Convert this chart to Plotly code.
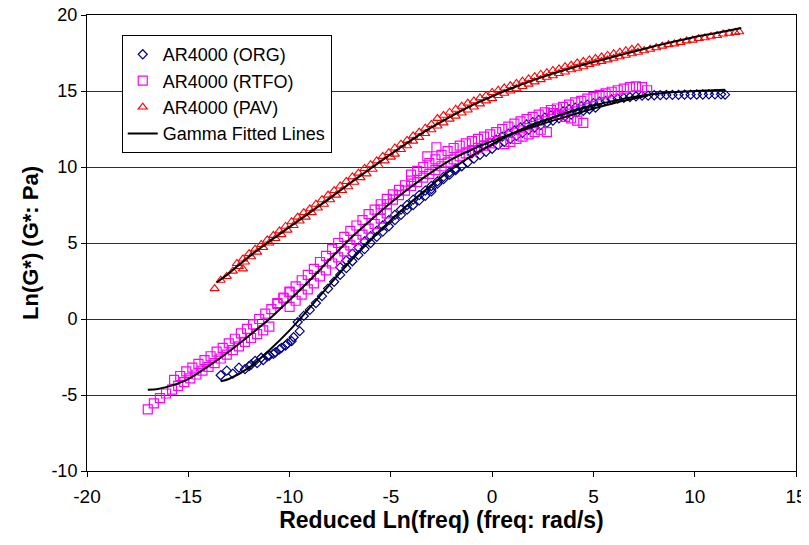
import plotly.graph_objects as go

# ---------------- data ----------------
# AR4000 (ORG) – navy diamonds
org_x = [-13.4,-13.1,-12.8,-12.5,-12.2,-11.9,-11.6,-11.3,-11.0,-10.7,-10.4,-10.1,-9.8,-9.5,
         -12.0,-11.7,-11.4,-11.1,-10.8,-10.5,-10.2,-9.9,
         -9.6,-9.3,-9.0,-8.7,-8.4,-8.1,-7.8,-7.5,-7.2,-6.9,-6.6,-6.3,-6.0,-5.7,-5.4,-5.1,-4.8,-4.5,-4.2,-3.9,-3.6,-3.3,-3.0,
         -7.5,-7.2,-6.9,-6.6,-6.3,-6.0,-5.7,-5.4,-5.1,-4.8,-4.5,-4.2,-3.9,-3.6,-3.3,-3.0,-2.7,-2.4,-2.1,-1.8,
         -3.0,-2.7,-2.4,-2.1,-1.8,-1.5,-1.2,-0.9,-0.6,-0.3,0.0,0.3,0.6,0.9,1.2,1.5,1.8,2.1,2.4,2.7,3.0,3.3,3.6,3.9,4.2,4.5,4.8,5.1,
         -1.0,-0.7,-0.4,-0.1,0.2,0.5,0.8,1.1,1.4,1.7,2.0,2.3,2.6,2.9,3.2,3.5,3.8,4.1,4.4,4.7,5.0,5.3,5.6,5.9,6.2,6.5,6.8,7.1,7.4,7.7,
         8.0,8.3,8.6,8.9,9.2,9.5,9.8,10.1,10.4,10.7,11.0,11.3,11.5]
org_y = [-3.7,-3.4,-3.6,-3.2,-3.3,-3.0,-2.9,-2.7,-2.4,-2.2,-1.9,-1.6,-1.2,-0.8,
         -3.1,-2.75,-2.55,-2.45,-2.3,-2.0,-1.75,-1.45,
         -0.2,0.2,0.6,1.05,1.5,2.0,2.45,2.9,3.35,3.8,4.2,4.6,5.0,5.4,5.75,6.1,6.5,6.85,7.2,7.5,7.8,8.1,8.4,
         3.4,3.85,4.3,4.7,5.1,5.45,5.8,6.15,6.5,6.85,7.2,7.5,7.85,8.15,8.45,8.75,9.05,9.35,9.65,9.9,
         8.55,8.9,9.2,9.5,9.8,10.05,10.3,10.55,10.8,11.0,11.2,11.45,11.65,11.85,12.05,12.25,12.45,12.6,12.75,12.9,13.05,13.2,13.35,13.45,13.6,13.7,13.8,13.9,
         10.9,11.15,11.4,11.6,11.8,12.0,12.2,12.4,12.6,12.8,12.95,13.1,13.25,13.4,13.55,13.65,13.8,13.9,14.0,14.1,14.2,14.3,14.35,14.45,14.5,14.55,14.6,14.65,14.7,14.7,
         14.72,14.73,14.74,14.75,14.75,14.76,14.76,14.77,14.77,14.78,14.78,14.78,14.76]

# AR4000 (RTFO) – magenta squares
rtfo_x = [-17.0,-16.7,-16.4,-16.1,-15.8,-15.5,-15.2,-14.9,-14.6,-14.3,-14.0,-13.7,-13.4,-13.1,-12.8,-12.5,-12.2,-11.9,-11.6,-11.3,-11.0,
          -15.7,-15.4,-15.1,-14.8,-14.5,-14.2,-13.9,-13.6,-13.3,-13.0,-12.7,-12.4,-12.1,-11.8,-11.5,-11.2,-10.9,-10.6,-10.3,-10.0,
          -10.6,-10.3,-10.0,-9.7,-9.4,-9.1,-8.8,-8.5,-8.2,-7.9,-7.6,-7.3,-7.0,-6.7,-6.4,-6.1,-5.8,-5.5,-5.2,-4.9,-4.6,-4.3,-4.0,
          -10.0,-9.7,-9.4,-9.1,-8.8,-8.5,-8.2,-7.9,-7.6,-7.3,-7.0,-6.7,-6.4,-6.1,-5.8,-5.5,-5.2,
          -5.5,-5.2,-4.9,-4.6,-4.3,-4.0,-3.7,-3.4,-3.1,-2.8,-2.5,-2.2,-1.9,-1.6,-1.3,-1.0,-0.7,-0.4,-0.1,
          -4.0,-3.7,-3.4,-3.1,-2.8,-2.5,-2.2,-1.9,-1.6,-1.3,-1.0,-0.7,-0.4,-0.1,0.2,0.5,0.8,1.1,1.4,1.7,
          2.0,2.3,2.6,2.9,3.2,3.5,3.8,4.1,4.4,4.7,5.0,5.3,5.6,5.9,6.2,6.5,6.8,7.1,7.4,7.65,
          0.6,0.9,1.2,1.5,1.8,2.1,2.4,2.7,
          3.0,3.3,3.6,3.9,4.2,4.5,
          -3.2,-2.75]
rtfo_y = [-5.95,-5.55,-5.2,-4.9,-4.65,-4.4,-4.15,-3.9,-3.65,-3.4,-3.15,-2.9,-2.6,-2.35,-2.05,-1.8,-1.5,-1.25,-1.0,-0.75,-0.5,
          -4.0,-3.75,-3.45,-3.2,-2.95,-2.7,-2.45,-2.15,-1.9,-1.6,-1.3,-0.95,-0.65,-0.35,0.0,0.35,0.65,1.05,1.4,1.8,
          1.0,1.35,1.75,2.15,2.55,2.9,3.3,3.75,4.15,4.6,5.0,5.4,5.8,6.15,6.5,6.9,7.2,7.55,7.9,8.2,8.5,8.8,9.1,
          0.8,1.2,1.6,1.95,2.35,2.8,3.2,3.65,4.05,4.45,4.85,5.2,5.55,5.95,6.25,6.6,6.95,
          7.2,7.55,7.85,8.15,8.45,8.75,9.0,9.3,9.55,9.8,10.05,10.3,10.5,10.7,10.9,11.05,11.25,11.4,11.55,
          9.5,9.75,10.0,10.25,10.5,10.8,11.05,11.25,11.4,11.55,11.7,11.85,12.0,12.15,12.3,12.5,12.65,12.85,13.0,13.15,
          13.3,13.45,13.6,13.75,13.85,13.95,14.1,14.25,14.35,14.5,14.6,14.75,14.85,14.95,15.05,15.15,15.25,15.3,15.25,15.05,
          11.5,11.65,11.85,12.0,12.15,12.3,12.45,12.3,
          13.55,13.45,13.3,13.2,13.05,12.9,
          10.7,11.3]

# AR4000 (PAV) – red triangles
pav_x = [-13.7,-13.4,-13.1,-12.8,-12.5,-12.2,-11.9,-11.6,-11.3,-11.0,-10.7,-10.4,-10.1,-9.8,-9.5,-9.2,-8.9,-8.6,-8.3,-8.0,
         -7.7,-7.4,-7.1,-6.8,-6.5,-6.2,-5.9,-5.6,-5.3,-5.0,-12.3,
         -12.6,-12.3,-12.0,-11.7,-11.4,-11.1,-10.8,-10.5,-10.2,-9.9,-9.6,-9.3,-9.0,-8.7,-8.4,-8.1,-7.8,-7.5,-7.2,-6.9,
         -6.6,-6.3,-6.0,-5.7,-5.4,-5.1,-4.8,-4.5,-4.2,-3.9,-3.6,-3.3,-3.0,
         -4.8,-4.5,-4.2,-3.9,-3.6,-3.3,-3.0,-2.7,-2.4,-2.1,-1.8,-1.5,-1.2,-0.9,-0.6,-0.3,0.0,0.3,0.6,0.9,
         1.2,1.5,1.8,2.1,2.4,2.7,3.0,3.3,3.6,3.9,4.2,4.5,4.8,5.1,5.4,5.7,6.0,6.3,6.6,6.9,
         7.2,7.5,7.8,8.1,8.4,8.7,9.0,9.3,9.6,9.9,10.2,10.5,10.8,11.1,11.4,11.7,12.0,12.2,
         -2.7,-2.4,-2.1,-1.8,-1.5,-1.2,-0.9,-0.6,-0.3,0.0,0.3,0.6,0.9,1.2,1.5,1.8,2.1,2.4,2.7,3.0,
         3.3,3.6,3.9,4.2,4.5,4.8,5.1,5.4,5.7,6.0,6.3,6.6,6.9,7.2]
pav_y = [2.0,2.55,2.8,3.15,3.45,3.75,4.1,4.4,4.7,5.0,5.3,5.55,5.85,6.15,6.45,6.7,7.0,7.3,7.55,7.85,
         8.15,8.45,8.7,9.0,9.3,9.55,9.85,10.1,10.4,10.65,3.3,
         3.65,3.95,4.3,4.6,4.9,5.2,5.5,5.8,6.1,6.4,6.7,7.0,7.25,7.55,7.85,8.15,8.45,8.75,9.05,9.35,
         9.6,9.9,10.15,10.4,10.7,10.95,11.25,11.5,11.75,12.05,12.3,12.55,12.8,
         10.85,11.15,11.4,11.7,11.95,12.2,12.45,12.7,12.9,13.15,13.35,13.55,13.75,13.95,14.15,14.35,14.5,14.7,14.85,15.0,
         15.15,15.3,15.45,15.6,15.75,15.9,16.0,16.15,16.25,16.4,16.5,16.6,16.75,16.85,16.95,17.05,17.15,17.25,17.35,17.45,
         17.55,17.65,17.75,17.85,17.95,18.05,18.1,18.2,18.3,18.35,18.45,18.5,18.6,18.65,18.75,18.8,18.85,18.9,
         13.2,13.4,13.6,13.8,14.0,14.2,14.35,14.55,14.7,14.9,15.05,15.2,15.35,15.5,15.65,15.8,15.95,16.1,16.2,16.35,
         16.45,16.6,16.7,16.85,16.95,17.05,17.15,17.25,17.35,17.45,17.55,17.65,17.75,17.85]

# Gamma fitted lines
fit_org_x = [-13.4,-13,-12,-11,-10,-9,-8,-7,-6,-5,-4,-3,-2,-1,0,1,2,3,4,5,6,7,8,9,10,11.5]
fit_org_y = [-4.1,-3.95,-3.2,-2.05,-0.75,0.75,2.3,3.8,5.2,6.5,7.7,8.8,9.85,10.75,11.5,12.2,12.8,13.25,13.7,14.05,14.35,14.6,14.8,14.93,15.0,15.08]
fit_rtfo_x = [-17,-16.5,-16,-15,-14,-13,-12,-11,-10,-9,-8,-7,-6,-5,-4,-3,-2,-1,0,1,2,3,4,5,6,7,7.7]
fit_rtfo_y = [-4.65,-4.6,-4.45,-3.95,-3.1,-2.15,-1.1,0.0,1.25,2.55,3.95,5.3,6.5,7.65,8.7,9.65,10.5,11.15,11.7,12.2,12.65,13.05,13.45,13.85,14.2,14.5,14.7]
fit_pav_x = [-13.6,-13,-12,-11,-10,-9,-8,-7,-6,-5,-4,-3,-2,-1,0,1,2,3,4,5,6,7,8,9,10,11,12.3]
fit_pav_y = [2.4,3.0,4.1,5.1,6.05,7.0,7.95,8.95,9.9,10.85,11.75,12.6,13.35,14.05,14.65,15.2,15.7,16.15,16.55,16.9,17.25,17.6,17.95,18.25,18.55,18.8,19.15]

# tick labels (hyphen minus as in the reference)
x_ticks = [-20, -15, -10, -5, 0, 5, 10, 15]
x_tick_text = ["-20", "-15", "-10", "-5", "0", "5", "10", "15"]
y_ticks = [-10, -5, 0, 5, 10, 15, 20]
y_tick_text = ["-10", "-5", "0", "5", "10", "15", "20"]

# ---------------- figure ----------------
FONT = "Liberation Sans, Arial, Helvetica, sans-serif"
fig = go.Figure()

fig.add_trace(go.Scatter(x=org_x, y=org_y, mode="markers", name="AR4000 (ORG)", legendgroup="a",
                         marker=dict(symbol="diamond-open", size=7, color="#000080", line=dict(width=1.2))))
fig.add_trace(go.Scatter(x=rtfo_x, y=rtfo_y, mode="markers", name="AR4000 (RTFO)", legendgroup="b",
                         marker=dict(symbol="square-open", size=9, color="#FF00FF", line=dict(width=1.2))))
fig.add_trace(go.Scatter(x=pav_x, y=pav_y, mode="markers", name="AR4000 (PAV)", legendgroup="c",
                         marker=dict(symbol="triangle-up-open", size=8, color="#FF0000", line=dict(width=1.1))))

fx = fit_org_x + [None] + fit_rtfo_x + [None] + fit_pav_x
fy = fit_org_y + [None] + fit_rtfo_y + [None] + fit_pav_y
fig.add_trace(go.Scatter(x=fx, y=fy, mode="lines", name="Gamma Fitted Lines", legendgroup="d",
                         line=dict(color="black", width=2, shape="spline", smoothing=0.8),
                         connectgaps=False))

# the page body adds an 8px margin, so the margins are shifted by 8px
fig.update_layout(
    width=809, height=545,
    margin=dict(l=79, r=21, t=7, b=82, autoexpand=False),
    paper_bgcolor="white", plot_bgcolor="white",
    font=dict(family=FONT, size=19, color="black"),
    showlegend=True,
    legend=dict(x=0.049, y=0.956, xanchor="left", yanchor="top",
                bgcolor="white", bordercolor="black", borderwidth=1,
                font=dict(size=18, family=FONT), tracegroupgap=0, itemwidth=30),
    xaxis=dict(range=[-20, 15], tickvals=x_ticks, ticktext=x_tick_text, showgrid=False, zeroline=False,
               showline=True, linecolor="black", linewidth=1, mirror=True, automargin=False,
               ticks="outside", ticklen=5, tickcolor="black", ticklabeloverflow="allow",
               ticklabelstandoff=3,
               tickfont=dict(size=19),
               title=dict(text="<b>Reduced Ln(freq) (freq: rad/s)</b>", font=dict(size=23), standoff=4)),
    yaxis=dict(range=[-10, 20], tickvals=y_ticks, ticktext=y_tick_text, showgrid=True, gridcolor="#303030", gridwidth=1,
               zeroline=False, showline=True, linecolor="black", linewidth=1, mirror=True, automargin=False,
               ticks="outside", ticklen=5, tickcolor="black", ticklabeloverflow="allow",
               tickfont=dict(size=18),
               title=dict(text="<b>Ln(G*) (G*: Pa)</b>", font=dict(size=22), standoff=6)),
)

fig.write_html("out.html")
